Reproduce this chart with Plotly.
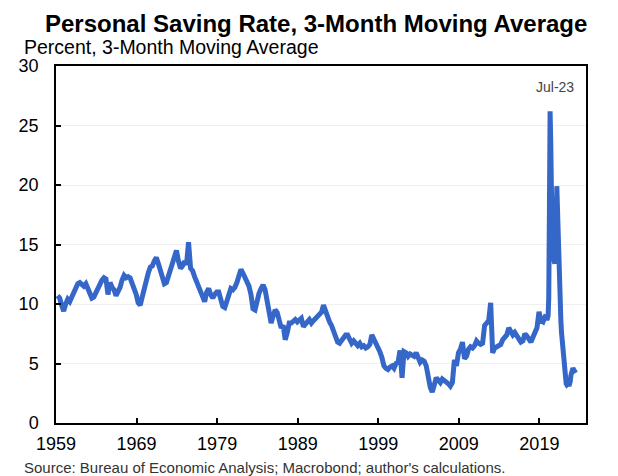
import pandas as pd
import plotly.graph_objects as go

# quarterly readings, 1959Q1 .. 2019Q4 (percent, 3-month moving average)
quarterly_values = [
    10.7, 10.5, 9.9, 9.4,     # 1959
    10.0, 10.4, 10.2, 10.6,   # 1960
    10.9, 11.3, 11.7, 11.8,   # 1961
    11.6, 11.5, 11.7, 11.3,   # 1962
    10.9, 10.5, 10.6, 11.0,   # 1963
    11.2, 11.7, 12.0, 12.2,   # 1964
    12.1, 10.8, 11.8, 11.4,   # 1965
    11.2, 10.7, 11.0, 11.4,   # 1966
    12.0, 12.4, 12.2, 12.3,   # 1967
    12.2, 11.8, 11.2, 10.8,   # 1968
    10.1, 9.9, 10.6, 11.4,    # 1969
    11.8, 12.6, 13.1, 13.2,   # 1970
    13.6, 13.9, 13.4, 12.9,   # 1971
    12.3, 11.7, 11.8, 12.4,   # 1972
    12.9, 13.3, 14.0, 14.5,   # 1973
    13.6, 13.0, 13.2, 13.6,   # 1974
    13.3, 15.2, 13.0, 12.8,   # 1975
    12.3, 11.9, 11.6, 11.2,   # 1976
    10.6, 10.2, 11.0, 11.3,   # 1977
    10.8, 10.5, 10.8, 11.0,   # 1978
    11.0, 10.4, 9.8, 9.7,     # 1979
    10.2, 11.0, 11.3, 11.2,   # 1980
    11.4, 11.8, 12.4, 12.9,   # 1981
    12.6, 12.3, 11.9, 11.5,   # 1982
    10.8, 9.6, 9.5, 10.3,     # 1983
    10.9, 11.3, 11.6, 11.2,   # 1984
    10.3, 9.9, 8.4, 9.0,      # 1985
    9.5, 9.3, 8.4, 8.0,       # 1986
    8.2, 7.0, 7.6, 8.4,       # 1987
    8.4, 8.5, 8.7, 8.5,       # 1988
    8.6, 8.8, 8.1, 8.4,       # 1989
    8.5, 8.7, 8.4, 8.6,       # 1990
    8.8, 8.9, 9.2, 9.3,       # 1991
    9.9, 9.4, 8.8, 8.5,       # 1992
    8.2, 7.8, 7.4, 6.8,       # 1993
    6.7, 7.0, 7.2, 7.4,       # 1994
    7.4, 7.0, 6.7, 6.9,       # 1995
    6.7, 6.5, 6.7, 6.4,       # 1996
    6.5, 6.3, 6.4, 6.6,       # 1997
    7.4, 7.1, 6.7, 6.4,       # 1998
    6.0, 5.5, 4.8, 4.6,       # 1999
    4.5, 4.7, 4.8, 4.6,       # 2000
    5.0, 5.1, 6.1, 3.8,       # 2001
    6.0, 5.9, 5.6, 5.8,       # 2002
    5.7, 5.6, 5.9, 5.4,       # 2003
    5.1, 5.3, 5.2, 4.8,       # 2004
    3.6, 3.0, 2.6, 3.2,       # 2005
    3.8, 3.6, 3.4, 3.7,       # 2006
    3.6, 3.4, 3.3, 3.1,       # 2007
    3.4, 5.3, 4.8, 5.9,       # 2008
    6.2, 6.8, 5.4, 5.6,       # 2009
    6.2, 6.4, 6.3, 6.5,       # 2010
    6.9, 6.7, 6.6, 6.7,       # 2011
    8.2, 8.4, 8.6, 10.1,      # 2012
    5.9, 6.3, 6.4, 6.4,       # 2013
    6.6, 7.0, 7.3, 7.4,       # 2014
    8.0, 7.7, 7.4, 7.6,       # 2015
    7.3, 7.0, 6.8, 6.9,       # 2016
    7.5, 7.3, 7.0, 6.8,       # 2017
    7.2, 7.5, 8.0, 9.35,      # 2018
    8.6, 8.5, 8.9, 8.8,       # 2019
]

# monthly readings, Jan 2020 .. Jul 2023
monthly_values = [
    8.8, 9.0, 10.5, 18.0, 26.2, 23.5, 19.5, 16.0, 14.5, 14.0, 13.6, 13.4,  # 2020
    14.5, 14.0, 19.9, 17.5, 16.0, 11.5, 9.5, 9.2, 8.6, 7.6, 7.0, 6.0,     # 2021
    5.0, 4.4, 4.0, 3.5, 3.3, 3.2, 3.2, 3.3, 3.1, 3.2, 3.5, 4.0,          # 2022
    4.4, 4.6, 4.6, 4.5, 4.4, 4.3, 4.2,                                  # 2023
]

year_ticks = [1959, 1969, 1979, 1989, 1999, 2009, 2019]

title_text = "<b>Personal Saving Rate, 3-Month Moving Average</b>"
subtitle_text = "Percent, 3-Month Moving Average"
source_text = "Source: Bureau of Economic Analysis; Macrobond; author's calculations."
end_label = "Jul-23"

q_dates = pd.date_range("1959-02-15", periods=len(quarterly_values), freq="3MS") + pd.Timedelta(days=14)
m_dates = pd.date_range("2020-01-01", periods=len(monthly_values), freq="MS")
dates = list(q_dates) + list(m_dates)
values = quarterly_values + monthly_values

font_family = "Arial, Liberation Sans, sans-serif"

fig = go.Figure()
fig.add_trace(go.Scatter(
    x=dates, y=values, mode="lines",
    line=dict(color="#3467c8", width=5),
    showlegend=False,
))

axis_common = dict(
    showline=True, linecolor="black", linewidth=1.5, mirror=True,
    ticks="inside", ticklen=5, tickcolor="black", tickwidth=1.5,
    tickfont=dict(family=font_family, size=18, color="black"),
    zeroline=False,
)

# the page body adds an 8px margin, so the figure is a bit smaller than the window
fig.update_layout(
    width=610, height=468,
    margin=dict(l=48, r=32, t=58, b=53),
    paper_bgcolor="white", plot_bgcolor="white",
    xaxis=dict(
        type="date",
        range=["1959-01-01", "2024-10-15"],
        tickvals=[f"{y}-01-01" for y in year_ticks],
        ticktext=[str(y) for y in year_ticks],
        showgrid=False,
        ticklabelstandoff=4,
        **axis_common,
    ),
    yaxis=dict(
        range=[0, 30], dtick=5,
        showgrid=True, gridcolor="#f0f0f0", gridwidth=1,
        ticklabelstandoff=12,
        **axis_common,
    ),
    annotations=[
        dict(text=title_text, xref="paper", yref="paper", x=0.49, y=1.118,
             xanchor="center", yanchor="middle", showarrow=False,
             font=dict(family=font_family, size=24, color="black")),
        dict(text=subtitle_text, xref="paper", yref="paper", x=-0.064, y=1.053,
             xanchor="left", yanchor="middle", showarrow=False,
             font=dict(family=font_family, size=19.5, color="black")),
        dict(text=source_text, xref="paper", yref="paper", x=-0.064, y=-0.126,
             xanchor="left", yanchor="middle", showarrow=False,
             font=dict(family=font_family, size=15, color="#333333")),
        dict(text=end_label, xref="x", yref="paper", x="2023-08-01", y=0.941,
             xanchor="right", yanchor="middle", showarrow=False,
             font=dict(family=font_family, size=14, color="#444444")),
    ],
)

fig.write_html("out.html")
